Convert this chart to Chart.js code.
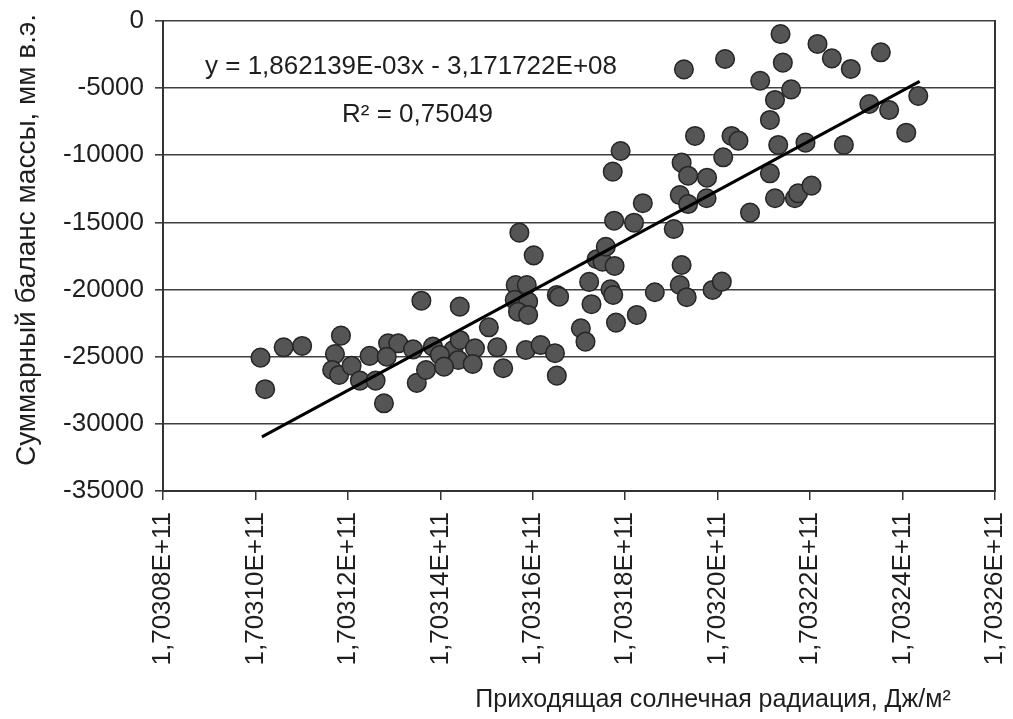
<!DOCTYPE html>
<html lang="ru">
<head>
<meta charset="utf-8">
<title>Суммарный баланс массы</title>
<script src="https://cdn.jsdelivr.net/npm/chart.js"></script>
<style>
  html, body { margin: 0; padding: 0; background: #fff; }
  #wrap { width: 1013px; height: 719px; position: relative; }
</style>
</head>
<body>
<div id="wrap"><canvas id="myChart"></canvas></div>
<script>
'use strict';

// incoming solar radiation, in units of 1E+06 J/m2
let radiation = [
  170310.11, 170310.21, 170310.61, 170311.01, 170311.85, 170311.72, 170311.66, 170311.81, 170312.08, 170312.26,
  170312.47, 170312.60, 170312.78, 170312.87, 170313.09, 170312.84, 170313.41, 170313.49, 170313.69, 170313.84,
  170313.59, 170314.28, 170314.42, 170314.75, 170313.99, 170314.39, 170314.70, 170314.08, 170314.42, 170315.05,
  170315.23, 170315.36, 170315.63, 170315.87, 170315.61, 170315.90, 170315.68, 170315.90, 170315.71, 170316.02,
  170315.85, 170316.17, 170316.48, 170316.52, 170316.52, 170316.57, 170317.04, 170317.14, 170317.22, 170317.27,
  170317.38, 170317.51, 170317.58, 170317.77, 170317.68, 170317.74, 170317.80, 170318.25, 170317.76, 170318.19,
  170318.38, 170317.73, 170317.90, 170318.64, 170319.05, 170319.18, 170319.22, 170319.33, 170319.18, 170319.36,
  170319.76, 170319.22, 170319.36, 170319.77, 170319.51, 170319.89, 170320.09, 170320.12, 170320.30, 170320.45,
  170320.70, 170319.27, 170320.16, 170320.92, 170321.13, 170321.24, 170321.59, 170321.41, 170321.36, 170321.13,
  170321.31, 170321.24, 170321.67, 170321.74, 170322.03, 170321.90, 170322.16, 170322.47, 170322.88, 170322.73,
  170323.28, 170323.53, 170323.71, 170324.08, 170324.34
];

// cumulative mass balance, mm w.e.
let massBalance = [
  -25070, -27420, -24300, -24200, -23430, -24800, -25990, -26360, -25670, -26780,
  -24940, -26780, -28470, -24000, -24000, -25000, -24450, -26950, -25990, -24250,
  -20830, -24500, -23750, -24370, -24870, -25240, -25540, -25740, -21270, -22810,
  -24300, -25860, -19660, -19660, -20770, -20900, -21650, -21890, -15760, -17450,
  -24500, -24130, -24740, -26410, -20400, -20530, -22880, -23880, -19430, -21090,
  -17740, -17920, -16810, -18240, -19980, -20400, -22460, -21890, -14870, -15020,
  -13570, -11220, -9680, -20200, -15490, -19660, -18170, -20570, -12960, -13630,
  -13200, -10550, -11520, -11670, -8560, -20030, -19410, -10150, -8560, -8910,
  -14270, -3600, -2830, -4450, -7370, -5880, -5090, -3100, -970, -11340,
  -9230, -13200, -13200, -12830, -12260, -9060, -1710, -2780, -3570, -9230,
  -6180, -2330, -6630, -8320, -5580
];

// linear trend line ends
let trendX = [170310.14, 170324.37];
let trendY = [-30970, -4500];

let xTicks = { min: 170308, max: 170326, step: 2 };
let yTicks = { min: -35000, max: 0, step: 5000 };

let equationText = 'y = 1,862139E-03x - 3,171722E+08';
let r2Text = 'R² = 0,75049';
let xTitle = 'Приходящая солнечная радиация, Дж/м²';
let yTitle = 'Суммарный баланс массы, мм в.э.';

let fontName = '"Liberation Sans", Arial, sans-serif';
let textColor = '#1e1e1e';

let points = [];
for (let i = 0; i < radiation.length; i++) {
  points.push({ x: radiation[i], y: massBalance[i] });
}
let trendPoints = [];
for (let i = 0; i < trendX.length; i++) {
  trendPoints.push({ x: trendX[i], y: trendY[i] });
}

function formatX(value) {
  return (value / 1e5).toFixed(5).replace('.', ',') + 'E+11';
}

function formatY(value) {
  return String(value);
}

let textPlugin = {
  id: 'textPlugin',
  afterDraw(chart) {
    let ctx = chart.ctx;
    ctx.save();
    ctx.fillStyle = textColor;
    ctx.textBaseline = 'middle';

    ctx.font = '26px ' + fontName;
    ctx.textAlign = 'left';
    ctx.fillText(equationText, 205, 67);
    ctx.fillText(r2Text, 342, 115);

    ctx.font = '25px ' + fontName;
    ctx.textAlign = 'center';
    ctx.fillText(xTitle, 713, 700);

    ctx.translate(27, 240);
    ctx.rotate(-Math.PI / 2);
    ctx.font = '28px ' + fontName;
    ctx.fillText(yTitle, 0, 0);
    ctx.restore();
  }
};

let ctx = document.getElementById('myChart').getContext('2d');
let myChart = new Chart(ctx, {
  type: 'scatter',
  data: {
    datasets: [{
      label: 'trend',
      type: 'line',
      data: trendPoints,
      borderColor: '#000',
      borderWidth: 3,
      pointRadius: 0,
      fill: false,
      order: 0
    }, {
      label: 'mass balance',
      data: points,
      backgroundColor: '#555555',
      borderColor: '#262626',
      borderWidth: 1.5,
      pointRadius: 9.3,
      order: 1
    }]
  },
  options: {
    responsive: true,
    maintainAspectRatio: false,
    animation: false,
    layout: { padding: { top: 21, left: 0, right: 0, bottom: 0 } },
    plugins: {
      legend: { display: false },
      tooltip: { enabled: false }
    },
    scales: {
      x: {
        type: 'linear',
        min: xTicks.min,
        max: xTicks.max,
        afterFit(axis) {
          axis.height = 228;
          axis.paddingLeft = 0;
          axis.paddingRight = 0;
        },
        ticks: {
          stepSize: xTicks.step,
          minRotation: 90,
          maxRotation: 90,
          padding: 12,
          color: textColor,
          font: { family: fontName, size: 26 },
          callback: formatX
        },
        grid: {
          drawOnChartArea: false,
          drawTicks: true,
          tickLength: 9,
          color: '#333',
          lineWidth: 1.5
        },
        border: { color: '#333', width: 2 }
      },
      y: {
        min: yTicks.min,
        max: yTicks.max,
        afterFit(axis) {
          axis.width = 163;
          axis.paddingTop = 0;
          axis.paddingBottom = 0;
        },
        ticks: {
          stepSize: yTicks.step,
          padding: 11,
          color: textColor,
          font: { family: fontName, size: 26 },
          callback: formatY
        },
        grid: {
          color: '#404040',
          lineWidth: 1.6,
          tickLength: 8
        },
        border: { color: '#333', width: 2 }
      },
      y2: {
        position: 'right',
        min: yTicks.min,
        max: yTicks.max,
        afterFit(axis) {
          axis.width = 18;
          axis.paddingTop = 0;
          axis.paddingBottom = 0;
        },
        ticks: { display: false },
        grid: { drawOnChartArea: false, drawTicks: false },
        border: { color: '#333', width: 2 }
      }
    }
  },
  plugins: [textPlugin]
});
</script>
</body>
</html>
